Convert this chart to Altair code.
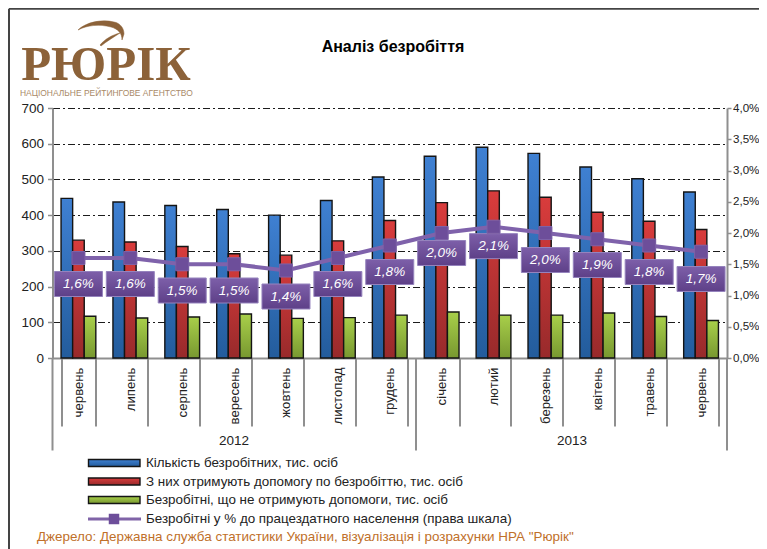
import altair as alt
import pandas as pd

months = ["червень", "липень", "серпень", "вересень", "жовтень", "листопад", "грудень",
          "січень", "лютий", "березень", "квітень", "травень", "червень"]
total = [447, 437, 427, 416, 400, 441, 507, 565, 590, 573, 535, 502, 465]
paid = [330, 325, 312, 292, 288, 328, 385, 435, 468, 450, 408, 383, 360]
unpaid = [117, 112, 115, 123, 111, 113, 120, 129, 120, 120, 126, 116, 105]
pct = [1.6, 1.6, 1.5, 1.5, 1.4, 1.6, 1.8, 2.0, 2.1, 2.0, 1.9, 1.8, 1.7]
label_at = [1.184, 1.184, 1.08, 1.08, 0.984, 1.184, 1.376, 1.68, 1.79, 1.568, 1.488, 1.376, 1.264]
series_names = ["Кількість безробітних, тис. осіб",
                "З них отримують допомогу по безробіттю, тис. осіб",
                "Безробітні, що не отримують допомоги, тис. осіб",
                "Безробітні у % до працездатного населення (права шкала)"]
title_text = "Аналіз безробіття"
source_text = "Джерело: Державна служба статистики України, візуалізація і розрахунки НРА \"Рюрік\""

OX, OY = 52.5, 108
FONT = "Liberation Sans"
GREY = "#8f8f8f"
INK = "#222222"
BROWN = "#8c6239"


def grad(top, bottom):
    return alt.Gradient(gradient="linear", x1=0, x2=0, y1=0, y2=1,
                        stops=[alt.GradientStop(color=top, offset=0),
                               alt.GradientStop(color=bottom, offset=1)])


FILLS = [grad("#3f80d2", "#235c9c"), grad("#d93c3c", "#982a2b"), grad("#a8cf4a", "#789830")]
PURPLE = grad("#7d5fa9", "#5e4088")

keys = [f"{i}|{m}" for i, m in enumerate(months)]
rows = pd.DataFrame({"key": keys, "total": total, "paid": paid, "unpaid": unpaid,
                     "pct": pct, "at": label_at})
rows["lo"] = rows["at"] - 0.2
rows["hi"] = rows["at"] + 0.2
rows["txt"] = [f"{p:.1f}%".replace(".", ",") for p in pct]

xscale = alt.Scale(domain=keys, paddingInner=0.33, paddingOuter=0.165)
x_axis = alt.Axis(title=None, tickBand="extent", tickSize=68, tickWidth=2, tickColor=GREY,
                  domainColor=GREY, domainWidth=2, labelAngle=270, labelAlign="right",
                  labelBaseline="middle", labelPadding=-59, labelFont=FONT, labelFontSize=13.2,
                  labelColor=INK, labelExpr="split(datum.value,'|')[1]", labelOverlap=False)
y_left = alt.Axis(title=None, values=list(range(0, 701, 100)), grid=True, gridColor="#1c1c1c",
                  gridDash=[7, 3, 2, 3], gridWidth=1, tickSize=5, tickWidth=1.5, tickColor=GREY,
                  domainColor=GREY, domainWidth=2, labelFont=FONT, labelFontSize=13.5,
                  labelColor=INK, labelPadding=4)
y_right = alt.Axis(title=None, orient="right", values=[0, .5, 1, 1.5, 2, 2.5, 3, 3.5, 4], grid=False,
                   tickSize=4, tickWidth=1.5, tickColor=GREY, domainColor=GREY, domainWidth=2,
                   labelFont=FONT, labelFontSize=11.6, labelColor=INK, labelPadding=1.5,
                   labelExpr="replace(format(datum.value,'.1f'),'.',',')+'%'")

x_enc = alt.X("key:N", sort=keys, scale=xscale, axis=x_axis)
bars = []
for idx, col in enumerate(["total", "paid", "unpaid"]):
    bars.append(
        alt.Chart(rows.assign(series=col)).mark_bar(fill=FILLS[idx], stroke="#141414", strokeWidth=1.4).encode(
            x=x_enc,
            xOffset=alt.XOffset("series:N", sort=["total", "paid", "unpaid"],
                                scale=alt.Scale(domain=["total", "paid", "unpaid"], paddingInner=0, paddingOuter=0)),
            y=alt.Y(f"{col}:Q", scale=alt.Scale(domain=[0, 700], nice=False), axis=y_left),
        )
    )
left = alt.layer(*bars)

rscale = alt.Scale(domain=[0, 4], nice=False)
line = alt.Chart(rows).mark_line(color="#7f62ab", strokeWidth=4).encode(
    x=x_enc, y=alt.Y("pct:Q", scale=rscale, axis=y_right))
squares = alt.Chart(rows).mark_square(size=170, filled=True, fill="#6d4e9a", stroke="#7d62a8", strokeWidth=1, opacity=1).encode(
    x=x_enc, y=alt.Y("pct:Q", scale=rscale, axis=y_right))
boxes = alt.Chart(rows).mark_bar(width=48, fill=PURPLE, stroke="#9583bd", strokeWidth=1).encode(
    x=x_enc, y=alt.Y("lo:Q", scale=rscale, axis=y_right), y2="hi:Q")
texts = alt.Chart(rows).mark_text(font=FONT, fontSize=13.5, fontStyle="italic", color="white").encode(
    x=x_enc, y=alt.Y("at:Q", scale=rscale, axis=y_right), text="txt:N")
right = alt.layer(line, boxes, squares, texts)

one = pd.DataFrame({"n": [0]})


def txt(s, px, py, size=13, color=INK, align="left", **kw):
    return alt.Chart(one).mark_text(text=s, font=kw.pop("font", FONT), fontSize=size, color=color, align=align,
                                    baseline="middle", **kw).encode(
        x=alt.value(px - OX), y=alt.value(py - OY))


def rule(x1, y1, x2, y2, color=GREY, width=2, **kw):
    return alt.Chart(one).mark_rule(color=color, strokeWidth=width, **kw).encode(
        x=alt.value(x1 - OX), x2=alt.value(x2 - OX), y=alt.value(y1 - OY), y2=alt.value(y2 - OY))


def glyph(path, px, py, **kw):
    return alt.Chart(one).mark_point(shape=path, size=4, opacity=1, **kw).encode(
        x=alt.value(px - OX), y=alt.value(py - OY))


extras = [
    rule(9, 8.75, 759, 8.75, color="#444444"),
    rule(9, 8.75, 9, 549, color="#444444"),
    rule(OX, 358, OX, 450.5),
    rule(416, 358, 416, 450.5),
    rule(727, 358, 727, 450.5),
    txt(title_text, 393, 47, size=16, color="#000000", align="center", fontWeight="bold"),
    txt("2012", 234, 441, size=13.5, align="center"),
    txt("2013", 572, 441, size=13.5, align="center"),
    txt("РЮРІК", 106, 65, size=49, color=BROWN, align="center", font="Liberation Serif", fontWeight="bold"),
    txt("НАЦІОНАЛЬНЕ РЕЙТИНГОВЕ АГЕНТСТВО", 20, 93, size=8.45, color="#a98a68"),
    glyph("M0,9 C8,1 24,-2 36,1 C42,2 46,7 46,13 L44,19 C44,12 40,8 33,6 C22,3 9,4 0,9 Z", 78, 21,
          filled=True, fill=BROWN, stroke=BROWN, strokeWidth=0.5),
    glyph("M0,12 C5,6 12,2 20,0 C14,4 7,8 1,13 Z", 100, 33, filled=True, fill=BROWN, stroke=BROWN, strokeWidth=0.5),
    txt(source_text, 37, 537, size=13.45, color="#c0702a"),
]
legend_y = [463, 481.5, 500, 519]
for i in range(3):
    extras.append(alt.Chart(one).mark_rect(fill=FILLS[i], stroke="#141414", strokeWidth=1.4).encode(
        x=alt.value(88.5 - OX), x2=alt.value(140 - OX),
        y=alt.value(legend_y[i] - 3.5 - OY), y2=alt.value(legend_y[i] + 3.5 - OY)))
extras.append(rule(88, legend_y[3], 141, legend_y[3], color="#8064a8", width=3))
extras.append(alt.Chart(one).mark_square(size=110, filled=True, fill="#6d4e9a", opacity=1).encode(
    x=alt.value(114 - OX), y=alt.value(legend_y[3] - OY)))
for s, ly in zip(series_names, legend_y):
    extras.append(txt(s, 146, ly, size=13.4))

chart = alt.layer(left, right, *extras).resolve_scale(y="independent").properties(
    width=674.5, height=250,
    autosize=alt.AutoSizeParams(type="none"),
    padding={"left": OX - 8, "top": OY - 8, "right": 32, "bottom": 191},
    background="white",
).configure_view(stroke=None)

chart.save("out.html", embed_options={"renderer": "svg", "actions": False})
